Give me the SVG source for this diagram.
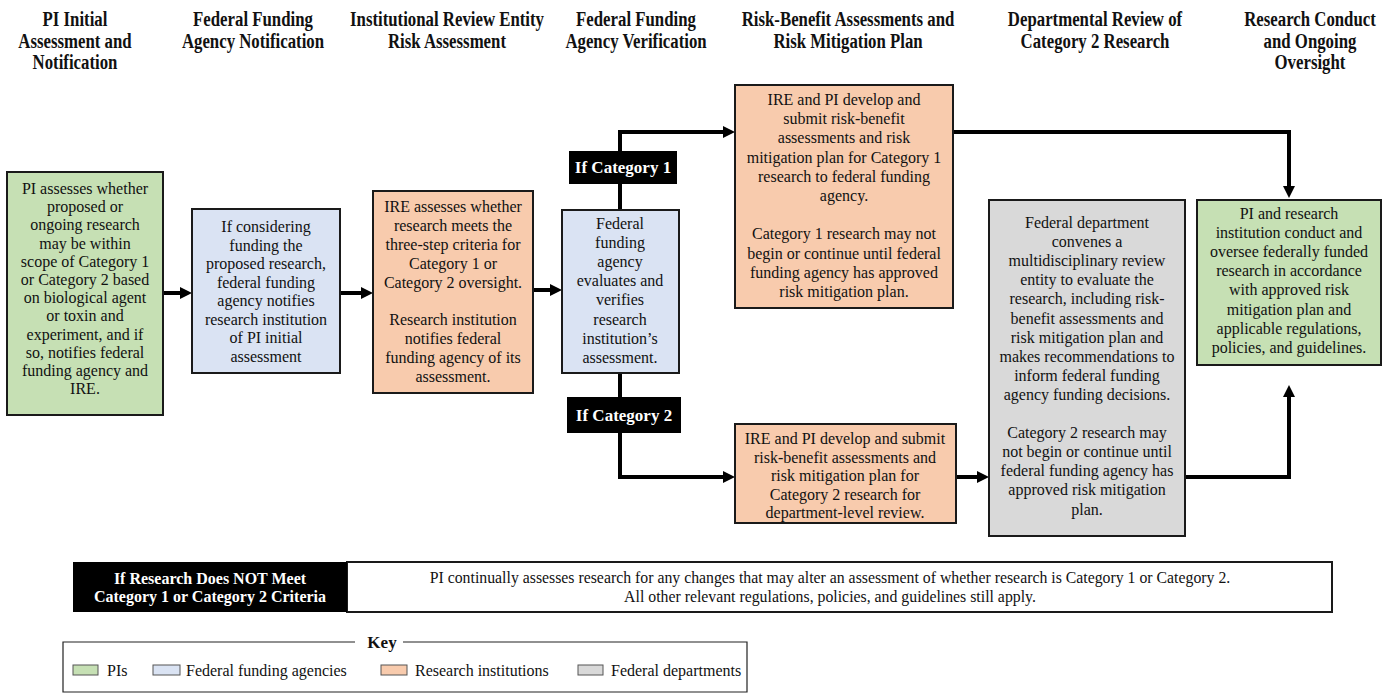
<svg xmlns="http://www.w3.org/2000/svg" width="1387" height="694" viewBox="0 0 1387 694">
<style>
text{font-family:"Liberation Serif","Times New Roman",serif;fill:#111}
.hd{font-size:20px;font-weight:bold;text-anchor:middle}
.bt{font-size:16px;text-anchor:middle}
.box{stroke:#1a1a1a;stroke-width:2}
.pi{fill:#c6e0b4}.fa{fill:#dae3f3}.ri{fill:#f8cbad}.fd{fill:#d9d9d9}
.lbl{fill:#000}
.lt{font-size:17px;font-weight:bold;fill:#fff;text-anchor:middle}
.conn{fill:none;stroke:#000;stroke-width:4;stroke-linejoin:miter}
.sw{stroke:#555;stroke-width:1}
.kt{font-size:16px}
</style>
<defs>
<marker id="ah" markerUnits="userSpaceOnUse" markerWidth="12" markerHeight="12" refX="2" refY="6" orient="auto">
<path d="M0,0 L12,6 L0,12 z" fill="#000"/>
</marker>
</defs>
<rect width="1387" height="694" fill="#fff"/>

<g id="headers">
<text class="hd" transform="translate(75,0) scale(0.84,1)"><tspan x="0" y="26">PI Initial</tspan><tspan x="0" y="48">Assessment and</tspan><tspan x="0" y="69">Notification</tspan></text>
<text class="hd" transform="translate(253,0) scale(0.84,1)"><tspan x="0" y="26">Federal Funding</tspan><tspan x="0" y="48">Agency Notification</tspan></text>
<text class="hd" transform="translate(447,0) scale(0.84,1)"><tspan x="0" y="26">Institutional  Review Entity</tspan><tspan x="0" y="48">Risk Assessment</tspan></text>
<text class="hd" transform="translate(636,0) scale(0.84,1)"><tspan x="0" y="26">Federal Funding</tspan><tspan x="0" y="48">Agency Verification</tspan></text>
<text class="hd" transform="translate(848,0) scale(0.84,1)"><tspan x="0" y="26">Risk-Benefit Assessments and</tspan><tspan x="0" y="48">Risk Mitigation Plan</tspan></text>
<text class="hd" transform="translate(1095,0) scale(0.84,1)"><tspan x="0" y="26">Departmental  Review of</tspan><tspan x="0" y="48">Category 2 Research</tspan></text>
<text class="hd" transform="translate(1310,0) scale(0.84,1)"><tspan x="0" y="26">Research Conduct</tspan><tspan x="0" y="48">and Ongoing</tspan><tspan x="0" y="69">Oversight</tspan></text>
</g>

<g id="connectors">
<path class="conn" d="M163,293 H182" marker-end="url(#ah)"/>
<path class="conn" d="M340,293 H363" marker-end="url(#ah)"/>
<path class="conn" d="M533,290 H552" marker-end="url(#ah)"/>
<path class="conn" d="M620,210 V132 H725" marker-end="url(#ah)"/>
<path class="conn" d="M620,373 V477 H725" marker-end="url(#ah)"/>
<path class="conn" d="M953,132 H1289 V188" marker-end="url(#ah)"/>
<path class="conn" d="M956,477 H979" marker-end="url(#ah)"/>
<path class="conn" d="M1185,477 H1289 V395" marker-end="url(#ah)"/>
</g>

<g id="n-pi-initial">
<rect class="box pi" x="7" y="172" width="156" height="243"/>
<text class="bt"><tspan x="85" y="194">PI assesses whether</tspan><tspan x="85" dy="18.2">proposed or</tspan><tspan x="85" dy="18.2">ongoing  research</tspan><tspan x="85" dy="18.2">may be within</tspan><tspan x="85" dy="18.2">scope of Category 1</tspan><tspan x="85" dy="18.2">or Category 2 based</tspan><tspan x="85" dy="18.2">on biological  agent</tspan><tspan x="85" dy="18.2">or toxin and</tspan><tspan x="85" dy="18.2">experiment, and if</tspan><tspan x="85" dy="18.2">so, notifies  federal</tspan><tspan x="85" dy="18.2">funding  agency and</tspan><tspan x="85" dy="18.2">IRE.</tspan></text>
</g>

<g id="n-ffa-notify">
<rect class="box fa" x="192" y="209" width="148" height="164"/>
<text class="bt"><tspan x="266" y="232">If considering</tspan><tspan x="266" dy="18.5">funding  the</tspan><tspan x="266" dy="18.5">proposed research,</tspan><tspan x="266" dy="18.5">federal funding</tspan><tspan x="266" dy="18.5">agency notifies</tspan><tspan x="266" dy="18.5">research institution</tspan><tspan x="266" dy="18.5">of PI initial</tspan><tspan x="266" dy="18.5">assessment</tspan></text>
</g>

<g id="n-ire-assess">
<rect class="box ri" x="373" y="191" width="160" height="202"/>
<text class="bt"><tspan x="453" y="212">IRE assesses whether</tspan><tspan x="453" dy="18.9">research meets the</tspan><tspan x="453" dy="18.9">three-step criteria for</tspan><tspan x="453" dy="18.9">Category 1  or</tspan><tspan x="453" dy="18.9">Category 2  oversight.</tspan><tspan x="453" dy="37.8">Research institution</tspan><tspan x="453" dy="18.9">notifies  federal</tspan><tspan x="453" dy="18.9">funding  agency of its</tspan><tspan x="453" dy="18.9">assessment.</tspan></text>
</g>

<g id="n-ffa-verify">
<rect class="box fa" x="562" y="210" width="117" height="163"/>
<text class="bt"><tspan x="620" y="229">Federal</tspan><tspan x="620" dy="19.1">funding</tspan><tspan x="620" dy="19.1">agency</tspan><tspan x="620" dy="19.1">evaluates and</tspan><tspan x="620" dy="19.1">verifies</tspan><tspan x="620" dy="19.1">research</tspan><tspan x="620" dy="19.1">institution’s</tspan><tspan x="620" dy="19.1">assessment.</tspan></text>
</g>

<g id="l-cat1">
<rect class="lbl" x="569" y="151" width="108" height="33"/>
<text class="lt" x="623" y="173">If Category 1</text>
</g>

<g id="l-cat2">
<rect class="lbl" x="567" y="397" width="114" height="36"/>
<text class="lt" x="624" y="421">If Category 2</text>
</g>

<g id="n-cat1-plan">
<rect class="box ri" x="735" y="85" width="218" height="223"/>
<text class="bt"><tspan x="844" y="105">IRE and PI develop  and</tspan><tspan x="844" dy="19.2">submit risk-benefit</tspan><tspan x="844" dy="19.2">assessments and risk</tspan><tspan x="844" dy="19.2">mitigation  plan for Category 1</tspan><tspan x="844" dy="19.2">research to federal funding</tspan><tspan x="844" dy="19.2">agency.</tspan><tspan x="844" dy="38.4">Category 1 research may not</tspan><tspan x="844" dy="19.2">begin or continue until  federal</tspan><tspan x="844" dy="19.2">funding  agency has approved</tspan><tspan x="844" dy="19.2">risk mitigation  plan.</tspan></text>
</g>

<g id="n-cat2-plan">
<rect class="box ri" x="735" y="424" width="221" height="99"/>
<text class="bt"><tspan x="845" y="444">IRE and PI develop  and submit</tspan><tspan x="845" dy="18.6">risk-benefit  assessments and</tspan><tspan x="845" dy="18.6">risk mitigation  plan  for</tspan><tspan x="845" dy="18.6">Category 2 research for</tspan><tspan x="845" dy="18.6">department-level review.</tspan></text>
</g>

<g id="n-dept-review">
<rect class="box fd" x="989" y="200" width="196" height="336"/>
<text class="bt"><tspan x="1087" y="228">Federal department</tspan><tspan x="1087" dy="19.1">convenes a</tspan><tspan x="1087" dy="19.1">multidisciplinary  review</tspan><tspan x="1087" dy="19.1">entity to evaluate the</tspan><tspan x="1087" dy="19.1">research, including  risk-</tspan><tspan x="1087" dy="19.1">benefit assessments and</tspan><tspan x="1087" dy="19.1">risk mitigation  plan and</tspan><tspan x="1087" dy="19.1">makes recommendations to</tspan><tspan x="1087" dy="19.1">inform  federal funding</tspan><tspan x="1087" dy="19.1">agency funding  decisions.</tspan><tspan x="1087" dy="38.2">Category 2 research may</tspan><tspan x="1087" dy="19.1">not begin or continue until</tspan><tspan x="1087" dy="19.1">federal funding  agency has</tspan><tspan x="1087" dy="19.1">approved risk mitigation</tspan><tspan x="1087" dy="19.1">plan.</tspan></text>
</g>

<g id="n-conduct">
<rect class="box pi" x="1197" y="200" width="184" height="165"/>
<text class="bt"><tspan x="1289" y="219">PI and research</tspan><tspan x="1289" dy="19.1">institution  conduct and</tspan><tspan x="1289" dy="19.1">oversee federally funded</tspan><tspan x="1289" dy="19.1">research in accordance</tspan><tspan x="1289" dy="19.1">with approved risk</tspan><tspan x="1289" dy="19.1">mitigation  plan and</tspan><tspan x="1289" dy="19.1">applicable  regulations,</tspan><tspan x="1289" dy="19.1">policies,  and guidelines.</tspan></text>
</g>

<g id="n-not-meet">
<rect x="347" y="562" width="985" height="50" fill="#fff" stroke="#1a1a1a" stroke-width="2"/>
<rect x="73" y="562" width="274" height="50" fill="#000"/>
<text class="lt" style="font-size:16px"><tspan x="210" y="584">If Research Does NOT Meet</tspan><tspan x="210" y="602">Category 1 or Category 2 Criteria</tspan></text>
<text style="font-size:15.8px" text-anchor="middle"><tspan x="830" y="583">PI continually  assesses research for any changes that may alter an assessment of whether research is Category 1 or Category 2.</tspan><tspan x="830" y="602">All other relevant regulations, policies, and guidelines  still apply.</tspan></text>
</g>

<g id="key">
<path d="M355,642 H63 V692 H747 V642 H403" fill="none" stroke="#222" stroke-width="1.2"/>
<text x="382" y="648" style="font-size:17px;font-weight:bold" text-anchor="middle">Key</text>
<rect class="sw pi" x="73" y="665" width="25" height="10"/>
<text class="kt" x="107" y="676">PIs</text>
<rect class="sw fa" x="153" y="665" width="27" height="10"/>
<text class="kt" x="186" y="676">Federal funding  agencies</text>
<rect class="sw ri" x="381" y="665" width="26" height="10"/>
<text class="kt" x="415" y="676">Research institutions</text>
<rect class="sw fd" x="578" y="665" width="25" height="10"/>
<text class="kt" x="611" y="676">Federal departments</text>
</g>
</svg>
